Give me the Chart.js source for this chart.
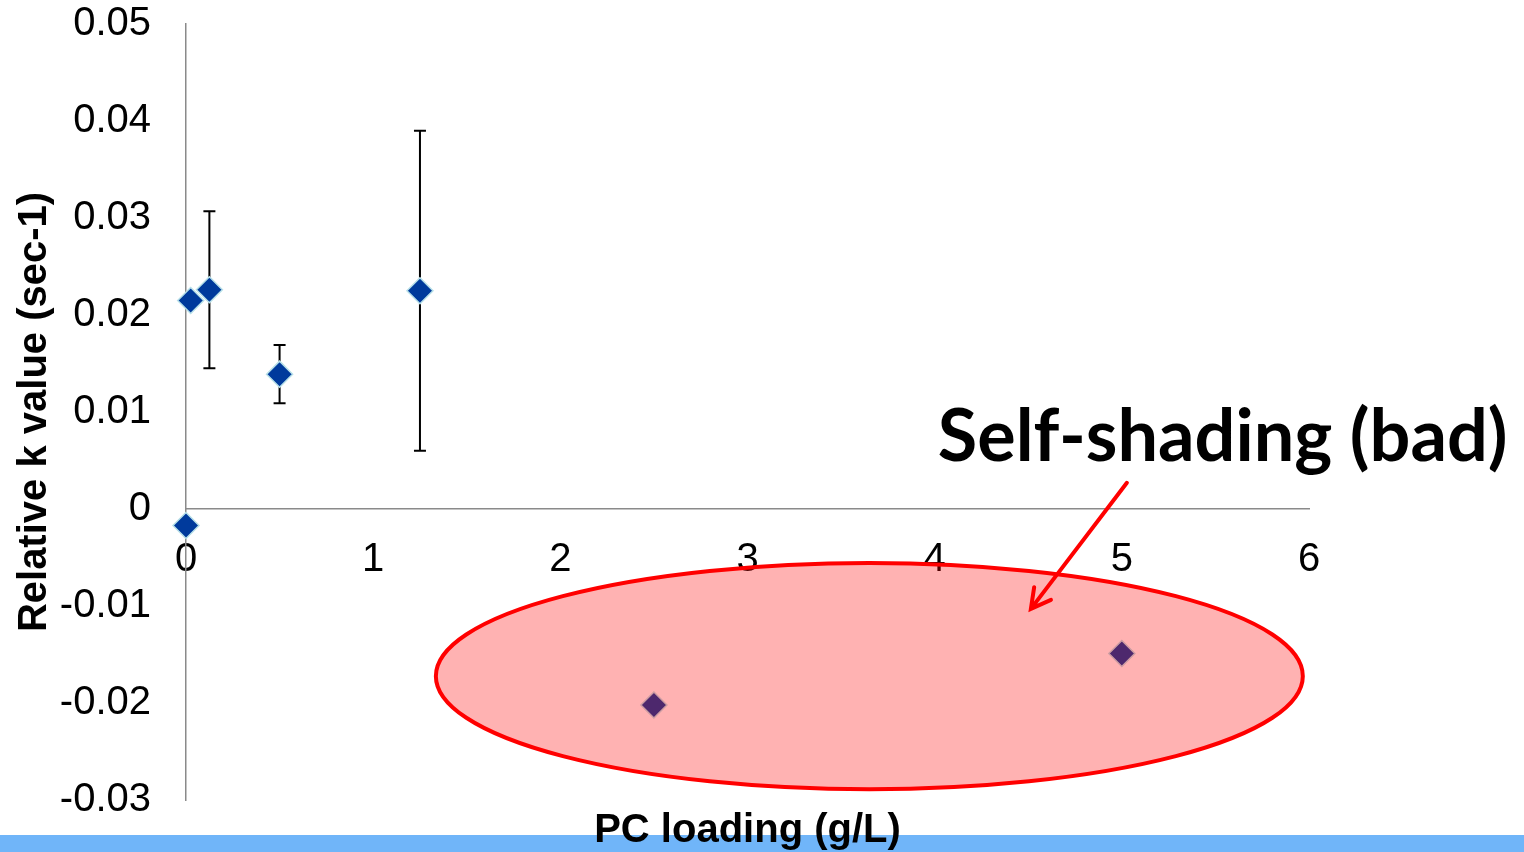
<!DOCTYPE html>
<html>
<head>
<meta charset="utf-8">
<script src="https://cdn.jsdelivr.net/npm/chart.js@4.4.1/dist/chart.umd.min.js"></script>
<style>
  html, body { margin: 0; padding: 0; background: #fff; }
  canvas { display: block; }
</style>
</head>
<body>
<canvas id="chart" width="1524" height="852"></canvas>
<script>
// PC loading (g/L)
const pcLoading = [0, 0.025, 0.125, 0.5, 1.25, 2.5, 5];
// relative k value (sec-1)
const kValues = [-0.0017, 0.0215, 0.0226, 0.0139, 0.0225, -0.0202, -0.0149];
// +/- error, null where the point has no bar
const kErrors = [null, null, 0.0081, 0.0030, 0.0165, null, null];

const xTicks = [0, 1, 2, 3, 4, 5, 6];
const xTickLabels = ['0', '1', '2', '3', '4', '5', '6'];
const yTicks = [-0.03, -0.02, -0.01, 0, 0.01, 0.02, 0.03, 0.04, 0.05];
const yTickLabels = ['-0.03', '-0.02', '-0.01', '0', '0.01', '0.02', '0.03', '0.04', '0.05'];

const xTitle = 'PC loading (g/L)';
const yTitle = 'Relative k value (sec-1)';
const noteText = 'Self-shading (bad)';

// error bars go under the markers
const errorBars = {
    id: 'errorBars',
    beforeDatasetsDraw(chart) {
        const { ctx, scales: { x, y } } = chart;
        ctx.save();
        ctx.strokeStyle = '#000';
        ctx.lineWidth = 2;
        kErrors.forEach((e, i) => {
            if (e == null) return;
            const px = x.getPixelForValue(pcLoading[i]);
            const top = y.getPixelForValue(kValues[i] + e);
            const bot = y.getPixelForValue(kValues[i] - e);
            ctx.beginPath();
            ctx.moveTo(px, top); ctx.lineTo(px, bot);
            ctx.moveTo(px - 6, top); ctx.lineTo(px + 6, top);
            ctx.moveTo(px - 6, bot); ctx.lineTo(px + 6, bot);
            ctx.stroke();
        });
        ctx.restore();
    }
};

// titles, highlight ellipse, arrow and note, bottom band
const overlay = {
    id: 'overlay',
    afterDraw(chart) {
        const { ctx, scales: { x, y }, width, height } = chart;
        ctx.save();

        // ellipse over the two low points (data units)
        const cx = x.getPixelForValue(3.651), cy = y.getPixelForValue(-0.01723);
        const rx = x.getPixelForValue(3.651 + 2.316) - cx;
        const ry = y.getPixelForValue(-0.01723 - 0.01166) - cy;
        ctx.beginPath();
        ctx.ellipse(cx, cy, rx, ry, 0, 0, Math.PI * 2);
        ctx.fillStyle = 'rgba(255, 0, 0, 0.3)';
        ctx.fill();
        ctx.strokeStyle = '#ff0000';
        ctx.lineWidth = 4;
        ctx.stroke();

        // arrow
        const ax1 = x.getPixelForValue(5.027), ay1 = y.getPixelForValue(0.0027);
        const ax2 = x.getPixelForValue(4.514), ay2 = y.getPixelForValue(-0.0103);
        const ang = Math.atan2(ay2 - ay1, ax2 - ax1);
        ctx.lineCap = 'round';
        ctx.beginPath();
        ctx.moveTo(ax1, ay1); ctx.lineTo(ax2, ay2);
        ctx.moveTo(ax2 - 22 * Math.cos(ang - 0.5), ay2 - 22 * Math.sin(ang - 0.5));
        ctx.lineTo(ax2, ay2);
        ctx.lineTo(ax2 - 22 * Math.cos(ang + 0.5), ay2 - 22 * Math.sin(ang + 0.5));
        ctx.stroke();

        // note text
        ctx.fillStyle = '#000';
        ctx.font = 'bold 72px Lato';
        ctx.textAlign = 'left';
        ctx.textBaseline = 'alphabetic';
        ctx.fillText(noteText, x.getPixelForValue(4.017), y.getPixelForValue(0.0049), 572);

        // bottom band
        ctx.fillStyle = '#70b5f9';
        ctx.fillRect(0, 835, width, height - 835);

        // axis titles
        ctx.fillStyle = '#000';
        ctx.font = 'bold 40px "Liberation Sans", Arial, sans-serif';
        ctx.textAlign = 'center';
        ctx.fillText(xTitle, (chart.chartArea.left + chart.chartArea.right) / 2, 842);

        ctx.translate(46, 412);
        ctx.rotate(-Math.PI / 2);
        ctx.fillText(yTitle, 0, 0);

        ctx.restore();
    }
};

const ctx = document.getElementById('chart').getContext('2d');
new Chart(ctx, {
    type: 'scatter',
    data: {
        datasets: [{
            label: 'k',
            data: pcLoading.map((v, i) => ({ x: v, y: kValues[i] })),
            pointStyle: 'rectRot',
            pointRadius: 13,
            pointHoverRadius: 13,
            backgroundColor: '#003a9c',
            borderColor: '#b7e0e8',
            borderWidth: 1.5,
            clip: false
        }]
    },
    options: {
        responsive: false,
        devicePixelRatio: 1,
        animation: false,
        events: [],
        layout: { padding: { left: 0, top: 24, right: 215, bottom: 52 } },
        plugins: {
            legend: { display: false },
            tooltip: { enabled: false }
        },
        scales: {
            x: {
                type: 'linear',
                position: { y: 0 },
                min: 0,
                max: 6,
                afterBuildTicks: s => { s.ticks = xTicks.map(v => ({ value: v })); },
                ticks: {
                    callback: (v, i) => xTickLabels[i],
                    color: '#000',
                    padding: 27,
                    maxRotation: 0,
                    font: { family: '"Liberation Sans", Arial, sans-serif', size: 40 }
                },
                grid: { display: false, drawTicks: false },
                border: { display: true, color: '#8a8a8a', width: 1.5 }
            },
            y: {
                type: 'linear',
                position: 'left',
                min: -0.03,
                max: 0.05,
                afterBuildTicks: s => { s.ticks = yTicks.map(v => ({ value: v })); },
                afterFit: s => { s.width = 186; s.paddingTop = 0; s.paddingBottom = 0; },
                ticks: {
                    callback: (v, i) => yTickLabels[i],
                    color: '#000',
                    padding: 35,
                    font: { family: '"Liberation Sans", Arial, sans-serif', size: 40 }
                },
                grid: { display: false, drawTicks: false },
                border: { display: true, color: '#8a8a8a', width: 1.5 }
            }
        }
    },
    plugins: [errorBars, overlay]
});
</script>
</body>
</html>
